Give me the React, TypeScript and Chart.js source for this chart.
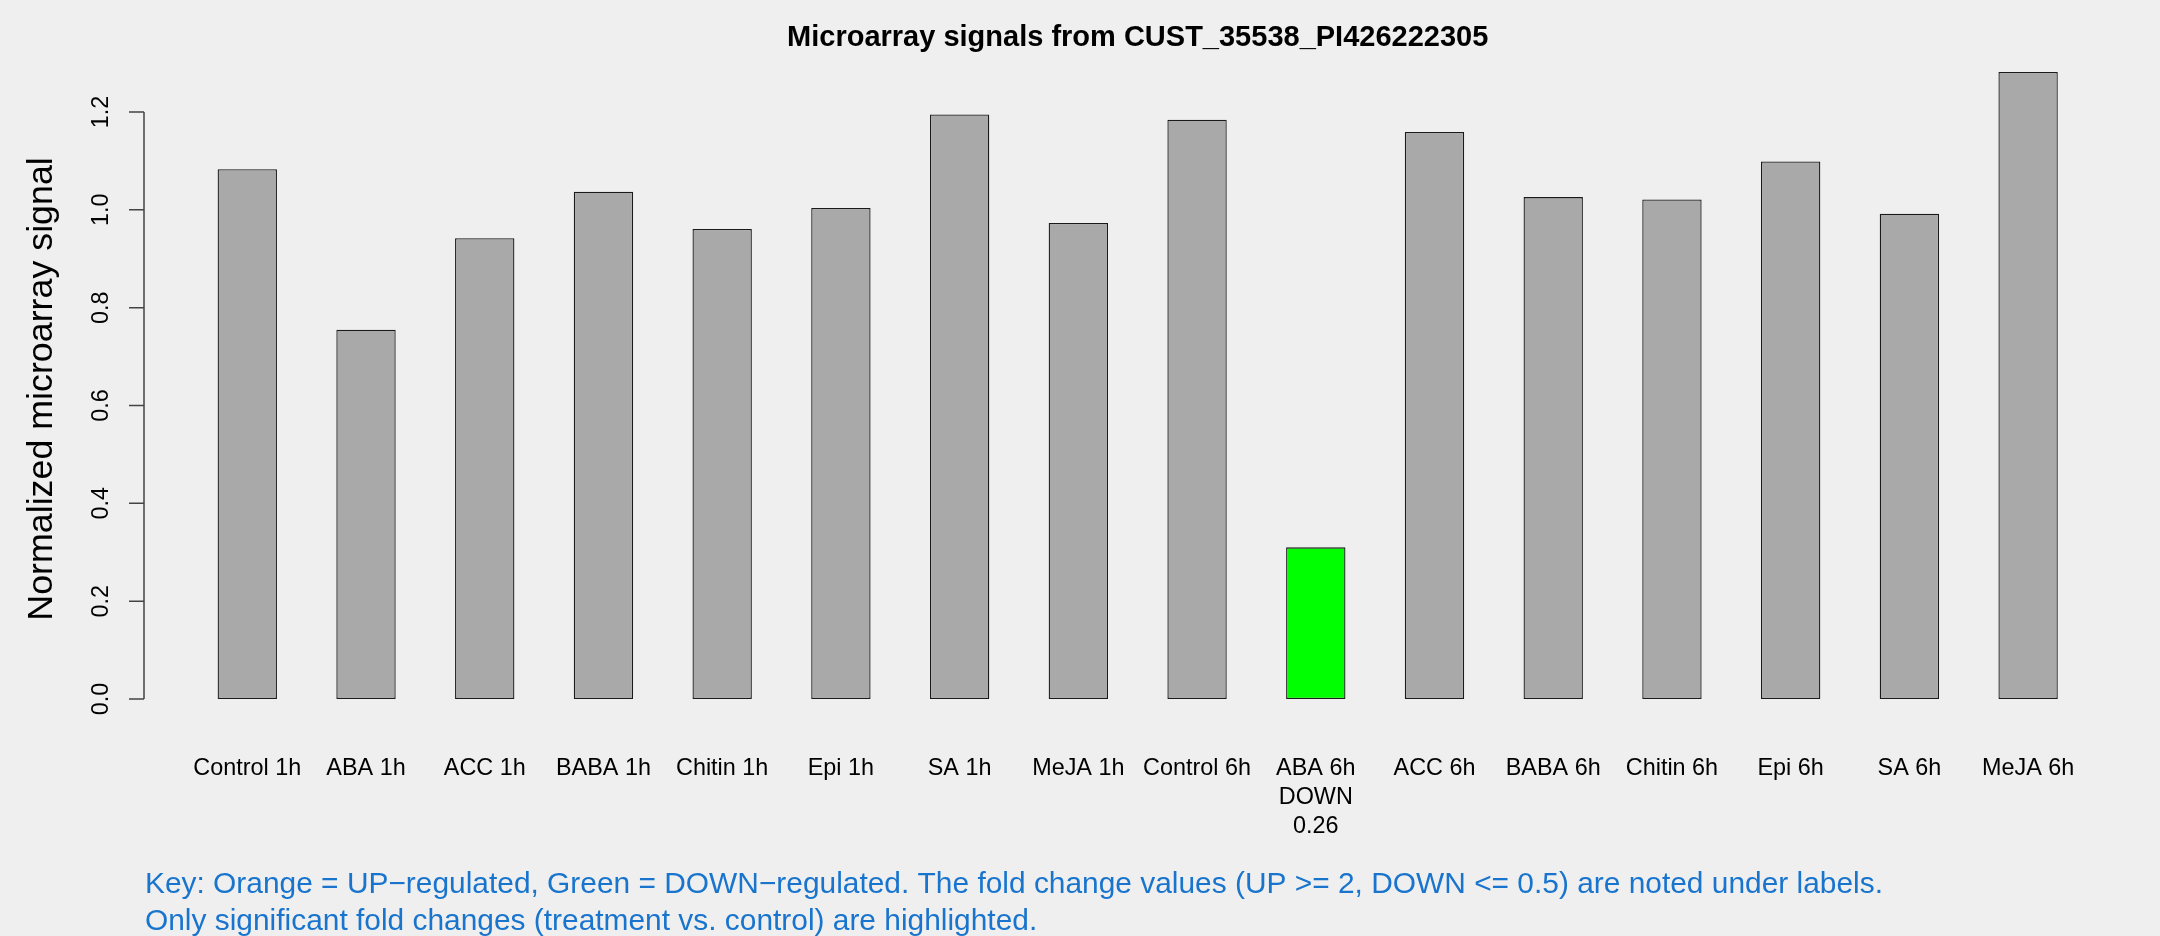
import { useEffect, useRef } from 'react';
import { Chart, registerables } from 'chart.js';

Chart.register(...registerables);

// ---- data ----
const categories = [
  'Control 1h', 'ABA 1h', 'ACC 1h', 'BABA 1h', 'Chitin 1h', 'Epi 1h', 'SA 1h', 'MeJA 1h',
  'Control 6h', 'ABA 6h', 'ACC 6h', 'BABA 6h', 'Chitin 6h', 'Epi 6h', 'SA 6h', 'MeJA 6h',
];
const signalValues = [
  1.083, 0.755, 0.942, 1.037, 0.961, 1.004, 1.195, 0.973,
  1.184, 0.310, 1.159, 1.026, 1.021, 1.099, 0.992, 1.282,
];
const regulation = ['', '', '', '', '', '', '', '', '', 'DOWN', '', '', '', '', '', ''];
const foldChanges = ['', '', '', '', '', '', '', '', '', '0.26', '', '', '', '', '', ''];
const yTickValues = [0, 0.2, 0.4, 0.6, 0.8, 1.0, 1.2];

const titleText = 'Microarray signals from CUST_35538_PI426222305';
const yAxisTitle = 'Normalized microarray signal';
const keyLines = [
  'Key: Orange = UP\u2212regulated, Green = DOWN\u2212regulated. The fold change values (UP >= 2, DOWN <= 0.5) are noted under labels.',
  'Only significant fold changes (treatment vs. control) are highlighted.',
];

const FONT = '"Liberation Sans", Arial, Helvetica, sans-serif';
const BG = '#efefef';
const colorFor = (r: string) => (r === 'UP' ? '#ffa500' : r === 'DOWN' ? '#00ff00' : '#a9a9a9');

const yPad = 0.04 * Math.max(...signalValues);

const rPlotPlugin = {
  id: 'rPlot',
  beforeDraw(chart: any) {
    const { ctx, width, height } = chart;
    ctx.save();
    ctx.fillStyle = BG;
    ctx.fillRect(0, 0, width, height);
    ctx.restore();
  },
  afterDraw(chart: any) {
    const { ctx, chartArea } = chart;
    const xs = chart.scales.x;
    const ys = chart.scales.y;
    ctx.save();

    // title
    ctx.fillStyle = '#000';
    ctx.font = `bold 29px ${FONT}`;
    ctx.textAlign = 'center';
    ctx.textBaseline = 'alphabetic';
    ctx.fillText(titleText, (chartArea.left + chartArea.right) / 2, 45.7);

    // y axis line and ticks
    const axisX = chartArea.left;
    ctx.strokeStyle = '#444';
    ctx.lineWidth = 1.5;
    ctx.beginPath();
    ctx.moveTo(axisX, ys.getPixelForValue(yTickValues[yTickValues.length - 1]));
    ctx.lineTo(axisX, ys.getPixelForValue(yTickValues[0]));
    for (const v of yTickValues) {
      const py = ys.getPixelForValue(v);
      ctx.moveTo(axisX - 15, py);
      ctx.lineTo(axisX, py);
    }
    ctx.stroke();

    // y tick labels (rotated)
    ctx.fillStyle = '#000';
    ctx.font = `23.4px ${FONT}`;
    for (const v of yTickValues) {
      const py = ys.getPixelForValue(v);
      ctx.save();
      ctx.translate(axisX - 35.7, py);
      ctx.rotate(-Math.PI / 2);
      ctx.textAlign = 'center';
      ctx.textBaseline = 'alphabetic';
      ctx.fillText(v.toFixed(1), 0, 0);
      ctx.restore();
    }

    // y axis title
    ctx.save();
    ctx.font = `35.8px ${FONT}`;
    ctx.translate(52.3, (chartArea.top + chartArea.bottom) / 2 + 3.5);
    ctx.rotate(-Math.PI / 2);
    ctx.textAlign = 'center';
    ctx.textBaseline = 'alphabetic';
    ctx.fillText(yAxisTitle, 0, 0);
    ctx.restore();

    // x labels
    ctx.font = `23.4px ${FONT}`;
    ctx.textAlign = 'center';
    ctx.textBaseline = 'alphabetic';
    categories.forEach((c, i) => {
      const px = xs.getPixelForValue(i);
      const lines = [c];
      if (regulation[i]) lines.push(regulation[i]);
      if (foldChanges[i]) lines.push(foldChanges[i]);
      lines.forEach((t, j) => ctx.fillText(t, px, 775.3 + j * 28.8));
    });

    // key
    ctx.fillStyle = '#1874cd';
    ctx.font = `29.9px ${FONT}`;
    ctx.textAlign = 'left';
    keyLines.forEach((t, j) => ctx.fillText(t, 145, 893.3 + j * 36.3));

    ctx.restore();
  },
};

export default function App() {
  const ref = useRef<HTMLCanvasElement | null>(null);
  useEffect(() => {
    if (!ref.current) return;
    const chart = new Chart(ref.current, {
      type: 'bar',
      data: {
        datasets: [
          {
            data: signalValues.map((v, i) => ({ x: i, y: v })),
            backgroundColor: regulation.map(colorFor),
            borderColor: '#1a1a1a',
            borderWidth: 1.3,
            borderSkipped: false,
            categoryPercentage: 1,
            barPercentage: 0.5,
          },
        ],
      },
      options: {
        responsive: false,
        animation: false,
        events: [],
        layout: { padding: { left: 144, right: 28.6, top: 46.8, bottom: 211.9 } },
        plugins: { legend: { display: false }, tooltip: { enabled: false }, title: { display: false } },
        scales: {
          x: {
            type: 'linear',
            display: false,
            offset: false,
            grid: { offset: false },
            min: -0.87,
            max: categories.length - 1 + 0.87,
            afterBuildTicks: (scale: any) => {
              scale.ticks = categories.map((_, i) => ({ value: i }));
            },
          },
          y: {
            type: 'linear',
            display: false,
            min: -yPad,
            max: Math.max(...signalValues) + yPad,
          },
        },
      },
      plugins: [rPlotPlugin],
    });
    return () => chart.destroy();
  }, []);
  return (
    <div style={{ position: 'fixed', left: 0, top: 0, width: 2160, height: 936, background: BG }}>
      <canvas ref={ref} width={2160} height={936} style={{ display: 'block' }} />
    </div>
  );
}
